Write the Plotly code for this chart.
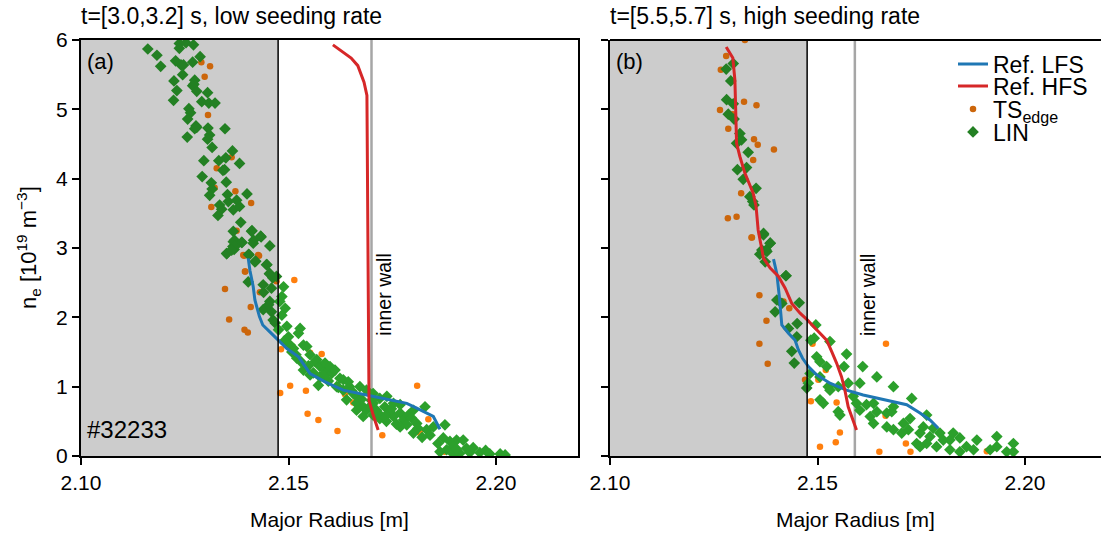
import plotly.graph_objects as go

# ---------------- data ----------------
# Panel (a): t=[3.0,3.2] s, low seeding rate
a_lin_x = [2.1161, 2.1183, 2.1192, 2.1237, 2.1253, 2.1271, 2.1237, 2.1228, 2.1241, 2.1247, 2.1269, 2.1287,
           2.1245, 2.1224, 2.1274, 2.1272, 2.1269, 2.1279, 2.1231, 2.1305, 2.1223, 2.1291, 2.1308, 2.1323,
           2.1260, 2.1264, 2.1257, 2.1277, 2.1274, 2.1279, 2.1306, 2.1347, 2.1310, 2.1305, 2.1256, 2.1316,
           2.1365, 2.1349, 2.1332, 2.1296, 2.1382, 2.1346, 2.1342, 2.1292, 2.1314, 2.1350, 2.1316, 2.1353,
           2.1310, 2.1375, 2.1400, 2.1355, 2.1334, 2.1339, 2.1367, 2.1382, 2.1330, 2.1385, 2.1412, 2.1370,
           2.1388, 2.1416, 2.1433, 2.1366, 2.1369, 2.1351, 2.1455, 2.1404, 2.1421, 2.1448, 2.1454, 2.1462,
           2.1367, 2.1411, 2.1434, 2.1367, 2.1387, 2.1415, 2.1371, 2.1351, 2.1363, 2.1405, 2.1419, 2.1447,
           2.1455, 2.1471, 2.1403, 2.1439, 2.1459, 2.1488, 2.1484, 2.1479, 2.1492, 2.1455, 2.1459, 2.1439,
           2.1463, 2.1484, 2.1496, 2.1528, 2.1524, 2.1500, 2.1504, 2.1512, 2.1536, 2.1544, 2.1552, 2.1520,
           2.1568, 2.1564, 2.1576, 2.1588, 2.1604, 2.1536, 2.1552, 2.1572, 2.1576, 2.1624, 2.1616, 2.1632,
           2.1647, 2.1656, 2.1664, 2.1640, 2.1664, 2.1680, 2.1688, 2.1696, 2.1704, 2.1720, 2.1732, 2.1744,
           2.1704, 2.1720, 2.1736, 2.1753, 2.1769, 2.1777, 2.1789, 2.1801, 2.1829, 2.1809, 2.1801, 2.1785,
           2.1769, 2.1833, 2.1841, 2.1849, 2.1877, 2.1873, 2.1889, 2.1905, 2.1921, 2.1897, 2.1929, 2.1881,
           2.1865, 2.1913, 2.1937, 2.1961, 2.1985, 2.2010, 2.2022, 2.1897,
           2.1588, 2.1600, 2.1612, 2.1632, 2.1644, 2.1672, 2.1688, 2.1704, 2.1737, 2.1753, 2.1769, 2.1712,
           2.1732, 2.1664, 2.1680,
           2.1440, 2.1452, 2.1468, 2.1476, 2.1490, 2.1508, 2.1518, 2.1530, 2.1548, 2.1560, 2.1584, 2.1596,
           2.1620, 2.1652, 2.1676, 2.1700, 2.1716, 2.1748, 2.1760, 2.1796, 2.1812, 2.1822, 2.1860, 2.1905,
           2.1945, 2.1975]
a_lin_y = [5.87, 5.78, 5.62, 5.95, 5.96, 5.93, 5.88, 5.70, 5.64, 5.64, 5.68, 5.76,
           5.50, 5.41, 5.42, 5.36, 5.34, 5.26, 5.27, 5.24, 5.13, 5.11, 5.09, 5.09,
           5.01, 4.95, 4.86, 4.76, 4.72, 4.74, 4.73, 4.72, 4.63, 4.57, 4.60, 4.45,
           4.40, 4.30, 4.26, 4.26, 4.22, 4.13, 4.12, 4.03, 3.94, 3.95, 3.85, 3.77,
           3.76, 3.69, 3.78, 3.67, 3.62, 3.56, 3.55, 3.60, 3.47, 3.37, 3.25, 3.11,
           3.08, 3.11, 3.17, 3.02, 2.98, 2.92, 3.03, 2.91, 2.81, 2.76, 2.63, 2.57,
           3.24, 3.24, 3.16, 3.09, 3.08, 3.07, 3.02, 2.92, 2.97, 2.90, 2.80, 2.76,
           2.63, 2.59, 2.51, 2.47, 2.42, 2.44, 2.30, 2.23, 2.13, 2.23, 2.08, 2.11,
           1.96, 2.03, 1.87, 1.84, 1.77, 1.72, 1.60, 1.55, 1.60, 1.58, 1.46, 1.41,
           1.39, 1.36, 1.29, 1.24, 1.19, 1.24, 1.17, 1.02, 1.14, 1.12, 1.00, 0.95,
           1.00, 0.90, 0.86, 0.81, 0.76, 0.71, 0.66, 0.71, 0.76, 0.83, 0.71, 0.64,
           0.59, 0.54, 0.50, 0.57, 0.62, 0.52, 0.59, 0.66, 0.71, 0.47, 0.33, 0.45,
           0.42, 0.38, 0.30, 0.42, 0.45, 0.26, 0.21, 0.23, 0.23, 0.135, 0.11, 0.09,
           0.06, 0.04, 0.05, 0.05, 0.03, 0.03, 0.015, 0.03,
           1.34, 1.29, 1.24, 1.10, 1.07, 1.00, 0.95, 0.90, 0.86, 0.76, 0.74, 0.66,
           0.57, 0.66, 0.57,
           2.36, 2.18, 1.92, 1.82, 1.66, 1.50, 1.46, 1.36, 1.30, 1.20, 1.16, 1.08,
           0.99, 0.94, 0.82, 0.80, 0.62, 0.68, 0.46, 0.55, 0.40, 0.27, 0.18, 0.10,
           0.12, 0.08]
a_ts_x = [2.1290, 2.1311, 2.1298, 2.1306, 2.1363, 2.1327, 2.1322, 2.1372, 2.1410, 2.1314, 2.1375, 2.1393,
          2.1429, 2.1396, 2.1391, 2.1427, 2.1395, 2.1347, 2.1431, 2.1471, 2.1514, 2.1409, 2.1357, 2.1394,
          2.1402, 2.1482, 2.1552, 2.1580, 2.1504, 2.1480, 2.1542, 2.1636, 2.1656, 2.1810, 2.1546, 2.1572,
          2.1618, 2.1726, 2.1837, 2.1817, 2.1876]
a_ts_y = [5.68, 5.62, 5.47, 4.92, 4.31, 4.15, 3.87, 3.82, 3.65, 3.59, 3.25, 2.89,
          2.89, 2.66, 2.90, 2.90, 2.66, 2.41, 2.36, 2.52, 2.54, 2.15, 1.97, 1.82,
          1.78, 1.54, 1.49, 1.47, 1.015, 0.91, 0.94, 0.89, 0.77, 1.015, 0.61, 0.52,
          0.36, 0.30, 0.53, 0.33, 0.06]
a_lfs_x = [2.1403, 2.1407, 2.1415, 2.1419, 2.1430, 2.1438, 2.1455, 2.1475, 2.1496, 2.1524, 2.1540, 2.1552,
           2.1588, 2.1632, 2.1688, 2.1745, 2.1785, 2.1809, 2.1849, 2.1865]
a_lfs_y = [2.85, 2.68, 2.44, 2.25, 2.01, 1.89, 1.79, 1.67, 1.55, 1.43, 1.29, 1.19,
           1.07, 0.95, 0.88, 0.81, 0.76, 0.69, 0.57, 0.385]
a_hfs_x = [2.1607, 2.1651, 2.1667, 2.1682, 2.1689, 2.1690, 2.1692, 2.1694, 2.1704, 2.1716]
a_hfs_y = [5.93, 5.74, 5.63, 5.39, 5.20, 4.00, 2.00, 0.80, 0.59, 0.375]

# Panel (b): t=[5.5,5.7] s, high seeding rate
b_lin_x = [2.1297, 2.1280, 2.1291, 2.1281, 2.1297, 2.1285, 2.1299, 2.1313, 2.1317, 2.1305, 2.1333, 2.1307,
           2.1329, 2.1321, 2.1352, 2.1337, 2.1344, 2.1347, 2.1370, 2.1386, 2.1376, 2.1361, 2.1374, 2.1424,
           2.1370, 2.1386, 2.1366, 2.1378, 2.1424, 2.1402, 2.1414, 2.1398, 2.1456, 2.1451, 2.1430, 2.1450,
           2.1438, 2.1444, 2.1484, 2.1496, 2.1492, 2.1530, 2.1570, 2.1498, 2.1506, 2.1522, 2.1564, 2.1609,
           2.1482, 2.1478, 2.1474, 2.1506, 2.1526, 2.1530, 2.1550, 2.1574, 2.1602, 2.1643, 2.1683, 2.1727,
           2.1763, 2.1506, 2.1514, 2.1550, 2.1554, 2.1586, 2.1594, 2.1602, 2.1618, 2.1635, 2.1643, 2.1627,
           2.1667, 2.1679, 2.1683, 2.1635, 2.1667, 2.1683, 2.1707, 2.1723, 2.1719, 2.1703, 2.1747, 2.1755,
           2.1771, 2.1779, 2.1795, 2.1803, 2.1819, 2.1827, 2.1843, 2.1859, 2.1884, 2.1876, 2.1932, 2.1932,
           2.1916, 2.1956, 2.1972, 2.1972, 2.1819, 2.1843, 2.1787, 2.1763, 2.1739, 2.1747]
b_lin_y = [5.66, 5.58, 5.41, 5.14, 5.08, 4.93, 4.86, 4.65, 4.56, 4.51, 4.38, 4.13,
           4.16, 3.99, 3.86, 3.74, 3.67, 3.62, 3.19, 3.07, 2.97, 2.91, 2.80, 2.60,
           3.21, 3.07, 2.97, 2.95, 2.60, 2.25, 2.20, 2.08, 2.21, 1.91, 1.84, 1.72,
           1.51, 1.34, 1.67, 1.89, 1.70, 1.65, 1.47, 1.43, 1.36, 1.29, 1.29, 1.29,
           1.19, 1.05, 0.98, 1.14, 1.00, 0.95, 1.00, 1.05, 1.05, 1.14, 1.00, 0.83,
           0.59, 0.81, 0.76, 0.64, 0.59, 0.86, 0.76, 0.66, 0.74, 0.76, 0.64, 0.57,
           0.62, 0.64, 0.71, 0.47, 0.42, 0.38, 0.47, 0.54, 0.38, 0.33, 0.33, 0.42,
           0.28, 0.40, 0.33, 0.23, 0.23, 0.33, 0.26, 0.135, 0.23, 0.09, 0.28, 0.135,
           0.09, 0.06, 0.18, 0.06, 0.09, 0.06, 0.135, 0.18, 0.18, 0.135]
b_ts_x = [2.1325, 2.1280, 2.1267, 2.1323, 2.1353, 2.1265, 2.1296, 2.1285, 2.1347, 2.1356, 2.1395, 2.1345,
          2.1316, 2.1284, 2.1305, 2.1342, 2.1341, 2.1360, 2.1377, 2.1360, 2.1380, 2.1418, 2.1432, 2.1470,
          2.1488, 2.1502, 2.1520, 2.1484, 2.1546, 2.1665, 2.1664, 2.1554, 2.1544, 2.1506, 2.1649, 2.1713,
          2.1724, 2.1908]
b_ts_y = [6.00, 5.77, 5.57, 5.11, 5.06, 4.99, 4.93, 4.72, 4.57, 4.49, 4.42, 4.27,
          3.79, 3.43, 3.45, 3.15, 3.15, 2.32, 1.95, 1.62, 1.33, 2.23, 2.13, 1.10,
          1.62, 1.10, 1.24, 0.79, 0.77, 1.62, 0.58, 0.34, 0.20, 0.135, 0.06, 0.18,
          0.06, 0.07]
b_lfs_x = [2.1394, 2.1402, 2.1408, 2.1410, 2.1414, 2.1430, 2.1446, 2.1454, 2.1464, 2.1478, 2.1498, 2.1530,
           2.1570, 2.1610, 2.1659, 2.1715, 2.1747, 2.1771, 2.1791]
b_lfs_y = [2.84, 2.63, 2.30, 2.11, 1.89, 1.77, 1.67, 1.53, 1.41, 1.29, 1.17, 1.05,
           0.95, 0.88, 0.81, 0.74, 0.62, 0.52, 0.40]
b_hfs_x = [2.1280, 2.1296, 2.1301, 2.1304, 2.1305, 2.1313, 2.1325, 2.1345, 2.1352, 2.1357, 2.1365, 2.1370,
           2.1386, 2.1406, 2.1422, 2.1438, 2.1458, 2.1476, 2.1498, 2.1522, 2.1534, 2.1546, 2.1558, 2.1566,
           2.1574, 2.1594]
b_hfs_y = [5.90, 5.74, 5.42, 4.94, 4.51, 4.32, 4.08, 3.79, 3.60, 3.26, 3.02, 2.85,
           2.71, 2.59, 2.42, 2.20, 2.06, 1.96, 1.82, 1.67, 1.51, 1.34, 1.14, 0.95,
           0.71, 0.375]

separatrix = 2.1475          # black vertical line (shaded region edge)
inner_wall = [2.170, 2.159]  # grey vertical lines
titles = ["t=[3.0,3.2] s, low seeding rate", "t=[5.5,5.7] s, high seeding rate"]
panel_labels = ["(a)", "(b)"]
legend_names = ["Ref. LFS", "Ref. HFS", "TS<sub>edge</sub>", "LIN"]
x_ticks = [2.10, 2.15, 2.20]
y_ticks = [0, 1, 2, 3, 4, 5, 6]

# ---------------- styling ----------------
FONT = "Liberation Sans, Arial, sans-serif"
C_LFS = "#1f77b4"
C_HFS = "#d62728"
C_TS, C_TS_D = "#ff7f0e", "#cc660b"
C_LIN, C_LIN_D = "#2ca02c", "#238023"

W, H = 1101, 533
ML, MR, MT, MB = 81, 0, 40, 77
PW = W - ML - MR
PH = H - MT - MB
dom_a = [0, (578 - ML) / PW]
dom_b = [(610 - ML) / PW, 1.0]
px_per_unit = 4150.0
range_a = [2.10, 2.10 + (578 - 81) / px_per_unit]
range_b = [2.10, 2.10 + (W - 610) / px_per_unit]

fig = go.Figure()


def shade(xs, c_light, c_dark):
    return [c_dark if x < separatrix else c_light for x in xs]


legend_ids = ["legend", "legend2", "legend3", "legend4"]
panels = [
    (a_lin_x, a_lin_y, a_ts_x, a_ts_y, a_lfs_x, a_lfs_y, a_hfs_x, a_hfs_y, "x", "y"),
    (b_lin_x, b_lin_y, b_ts_x, b_ts_y, b_lfs_x, b_lfs_y, b_hfs_x, b_hfs_y, "x2", "y2"),
]
for i, (lx, ly, tx, ty, fx, fy, hx, hy, xa, ya) in enumerate(panels):
    show = i == 1
    fig.add_trace(go.Scatter(x=tx, y=ty, mode="markers", name=legend_names[2], showlegend=show,
                             marker=dict(color=shade(tx, C_TS, C_TS_D), size=6.5, symbol="circle"),
                             xaxis=xa, yaxis=ya, legend=legend_ids[2]))
    fig.add_trace(go.Scatter(x=lx, y=ly, mode="markers", name=legend_names[3], showlegend=show,
                             marker=dict(color=shade(lx, C_LIN, C_LIN_D), size=9, symbol="diamond"),
                             xaxis=xa, yaxis=ya, legend=legend_ids[3]))
    fig.add_trace(go.Scatter(x=fx, y=fy, mode="lines", name=legend_names[0], showlegend=show,
                             line=dict(color=C_LFS, width=3), xaxis=xa, yaxis=ya, legend=legend_ids[0]))
    fig.add_trace(go.Scatter(x=hx, y=hy, mode="lines", name=legend_names[1], showlegend=show,
                             line=dict(color=C_HFS, width=3), xaxis=xa, yaxis=ya, legend=legend_ids[1]))

shapes = []
for i, xa in enumerate(["x", "x2"]):
    ya = "y" if i == 0 else "y2"
    shapes.append(dict(type="rect", xref=xa, yref=ya + " domain", x0=2.10, x1=separatrix, y0=0, y1=1,
                       fillcolor="#cccccc", line=dict(width=0), layer="below"))
    shapes.append(dict(type="line", xref=xa, yref=ya + " domain", x0=separatrix, x1=separatrix, y0=0, y1=1,
                       line=dict(color="black", width=1.5), layer="above"))
    shapes.append(dict(type="line", xref=xa, yref=ya + " domain", x0=inner_wall[i], x1=inner_wall[i], y0=0, y1=1,
                       line=dict(color="#a6a6a6", width=2.5), layer="below"))
# top border of right panel (its right side is cut by the figure edge)
shapes.append(dict(type="line", xref="paper", yref="paper", x0=dom_b[0], x1=1.0, y0=1, y1=1,
                   line=dict(color="black", width=2)))
fig.update_layout(shapes=shapes)

ann = []
for i, xa in enumerate(["x", "x2"]):
    ya = "y" if i == 0 else "y2"
    ann.append(dict(text=titles[i], xref=xa + " domain", yref=ya + " domain", x=0, y=1, xanchor="left",
                    yanchor="bottom", xshift=-2, yshift=9, showarrow=False, font=dict(size=23, color="black")))
    ann.append(dict(text=panel_labels[i], xref=xa + " domain", yref=ya + " domain", x=0, y=1, xanchor="left",
                    yanchor="top", xshift=4, yshift=-7, showarrow=False, font=dict(size=22, color="black")))
    ann.append(dict(text="inner wall", xref=xa, yref=ya, x=inner_wall[i], y=2.32, xanchor="left",
                    yanchor="middle", xshift=0, textangle=-90, showarrow=False,
                    font=dict(size=19.5, color="black")))
    ann.append(dict(text="Major Radius [m]", xref=xa + " domain", yref="paper", x=0.5, y=0,
                    yanchor="top", yshift=-50, showarrow=False, font=dict(size=21, color="black")))
ann.append(dict(text="#32233", xref="x domain", yref="y domain", x=0, y=0, xanchor="left", yanchor="bottom",
                xshift=4, yshift=11, showarrow=False, font=dict(size=24, color="black")))
ann.append(dict(text="n<sub>e</sub> [10<sup>19</sup> m<sup>\u22123</sup>]", xref="paper", yref="paper",
                x=0, y=0.5, xanchor="center", yanchor="middle", xshift=-53, textangle=-90,
                showarrow=False, font=dict(size=22, color="black")))
fig.update_layout(annotations=ann)

axis_common = dict(showgrid=False, zeroline=False, showline=True, linecolor="black", linewidth=2,
                   ticks="outside", ticklen=7, tickwidth=1.5, tickcolor="black",
                   tickfont=dict(size=21, color="black"))

legend_rows_px = [64, 86, 109, 132]
legend_layout = {}
for k, lid in enumerate(legend_ids):
    legend_layout[lid] = dict(x=(953 - ML) / PW, y=1 - (legend_rows_px[k] - MT) / PH,
                              xanchor="left", yanchor="middle", bgcolor="rgba(0,0,0,0)",
                              borderwidth=0, font=dict(size=23, color="black"), itemwidth=30)

fig.update_layout(
    width=W, height=H,
    margin=dict(l=ML, r=MR, t=MT, b=MB, pad=0),
    paper_bgcolor="white", plot_bgcolor="white",
    font=dict(family=FONT, color="black"),
    showlegend=True,
    xaxis=dict(domain=dom_a, range=range_a, tickvals=x_ticks, tickformat=".2f", mirror=True, **axis_common),
    xaxis2=dict(domain=dom_b, range=range_b, tickvals=x_ticks, tickformat=".2f", anchor="y2", **axis_common),
    yaxis=dict(range=[0, 6], tickvals=y_ticks, mirror=True, **axis_common),
    yaxis2=dict(range=[0, 6], tickvals=y_ticks, showticklabels=False, anchor="x2", **axis_common),
    **legend_layout,
)

fig.write_html("out.html", config={"displayModeBar": False},
               post_script="document.body.style.margin='0';")
